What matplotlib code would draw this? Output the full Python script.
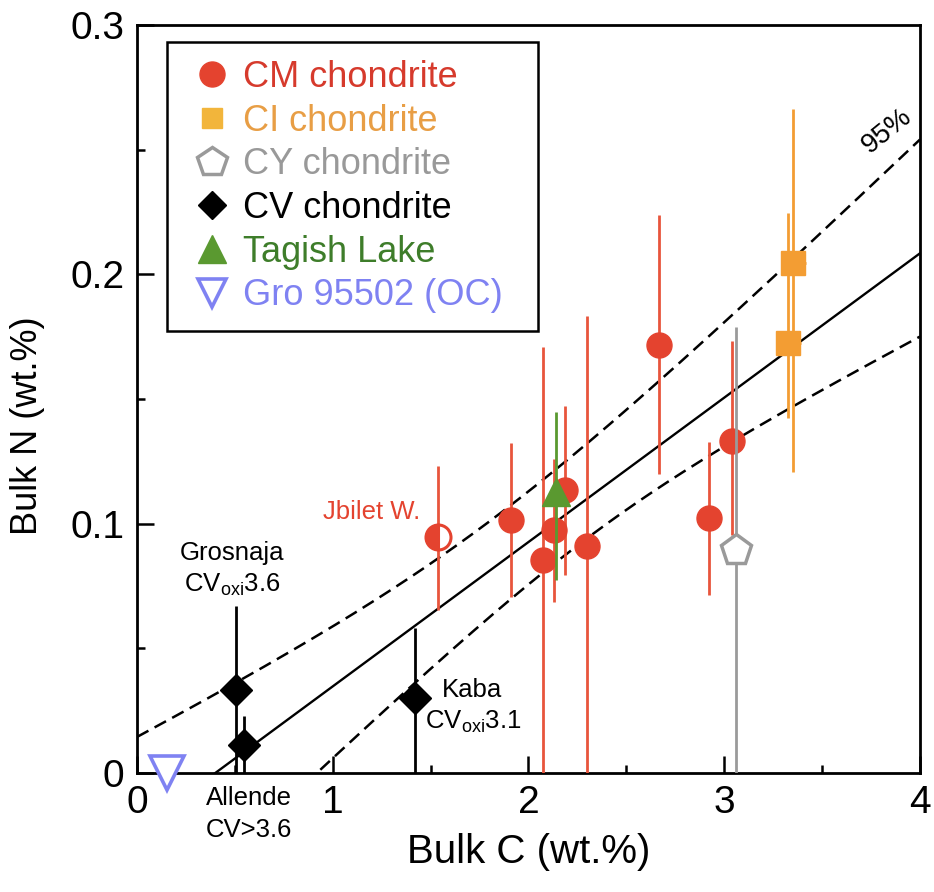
import numpy as np
import matplotlib
matplotlib.use("Agg")
import matplotlib.pyplot as plt
from matplotlib.lines import Line2D
from matplotlib.ticker import MultipleLocator

plt.rcParams['font.family'] = ['Liberation Sans', 'DejaVu Sans']
plt.rcParams['mathtext.fontset'] = 'custom'
plt.rcParams['mathtext.rm'] = 'Liberation Sans'
plt.rcParams['mathtext.it'] = 'Liberation Sans:italic'

# ---- data: bulk C and bulk N (wt.%) ----
# CM chondrites
cm_c = [1.909, 2.076, 2.130, 2.186, 2.300, 2.668, 2.922, 3.041]
cm_n = [0.1015, 0.0854, 0.0975, 0.1135, 0.0910, 0.1717, 0.1021, 0.1333]
cm_lo = [0.0706, 0.0, 0.0686, 0.0794, 0.0, 0.1200, 0.0714, 0.0955]
cm_hi = [0.1324, 0.1710, 0.1260, 0.1470, 0.1833, 0.2238, 0.1328, 0.1733]
# Jbilet Winselwan (CM, half-filled symbol)
jb_c, jb_n, jb_lo, jb_hi = 1.539, 0.0945, 0.0654, 0.1231
# CI chondrites
ci_c = [3.353, 3.328]
ci_n = [0.2045, 0.1724]
ci_lo = [0.1209, 0.1422]
ci_hi = [0.2662, 0.2245]
ci_cerr = [0.065, 0.065]
# CY chondrite
cy_c, cy_n, cy_lo, cy_hi = 3.06, 0.0894, 0.0, 0.179
# CV chondrites: Grosnaja, Allende, Kaba
cv_c = [0.507, 0.545, 1.420]
cv_n = [0.0333, 0.0112, 0.0300]
cv_lo = [0.0, 0.0, 0.0]
cv_hi = [0.067, 0.0229, 0.0582]
# Tagish Lake
tl_c, tl_n, tl_lo, tl_hi = 2.14, 0.1128, 0.0774, 0.1448
# GRO 95502 (ordinary chondrite)
oc_c, oc_n = 0.153, 0.0

# regression line N = slope * (C - c0) and its 95% band
fit_slope, fit_c0 = 0.0579, 0.40
band_up = (0.000392, 0.000334, 1.75)
band_lo = (0.000250, 0.000318, 2.35)

RED = '#E4432F'
RED_BAR = '#E8553C'
ORANGE = '#F39D33'
GRAY = '#9A9A9A'
GREEN = '#5A9930'
BLUE = '#7F82F2'


def yerr(n, lo, hi):
    n, lo, hi = np.atleast_1d(n), np.atleast_1d(lo), np.atleast_1d(hi)
    return [n - lo, hi - n]


fig = plt.figure(figsize=(9.34, 8.92), dpi=100)
ax = fig.add_axes([0.14668, 0.13341, 0.83833, 0.83857])

# regression and confidence band
xs = np.linspace(0, 4, 400)
fit = fit_slope * (xs - fit_c0)
up = fit + np.sqrt(band_up[0] + band_up[1] * (xs - band_up[2]) ** 2)
lo = fit - np.sqrt(band_lo[0] + band_lo[1] * (xs - band_lo[2]) ** 2)
ax.plot(xs, fit, color='black', lw=1.7, zorder=1)
for band in (up, lo):
    ax.plot(xs, band, color='black', lw=1.8, dashes=(5.2, 2.8), zorder=1)

ekw = dict(capsize=0, elinewidth=2.0, linestyle='none')

# CV chondrites
ax.errorbar(cv_c, cv_n, yerr=yerr(cv_n, cv_lo, cv_hi), fmt='D', color='black',
            ms=16, mec='black', ecolor='black', zorder=3, **ekw)
# CM chondrites
ax.errorbar(cm_c, cm_n, yerr=yerr(cm_n, cm_lo, cm_hi), fmt='o', color=RED,
            ms=18, mec=RED, ecolor=RED_BAR, zorder=3, **ekw)
ax.errorbar([jb_c], [jb_n], yerr=yerr(jb_n, jb_lo, jb_hi), fmt='o', color=RED,
            ms=18, mec=RED, mew=2.2, fillstyle='left', markerfacecoloralt='white',
            ecolor=RED_BAR, zorder=3, **ekw)
# CI chondrites
ax.errorbar(ci_c, ci_n, yerr=yerr(ci_n, ci_lo, ci_hi), xerr=ci_cerr, fmt='s',
            color=ORANGE, ms=17, mec=ORANGE, ecolor=ORANGE, zorder=3, **ekw)
# CY chondrite
ax.errorbar([cy_c], [cy_n], yerr=yerr(cy_n, cy_lo, cy_hi), fmt='p', color=GRAY,
            ms=23, mfc='white', mec=GRAY, mew=2.5, ecolor=GRAY, zorder=4, **ekw)
# Tagish Lake
ax.errorbar([tl_c], [tl_n], yerr=yerr(tl_n, tl_lo, tl_hi), fmt='^', color=GREEN,
            ms=20, mec=GREEN, ecolor=GREEN, zorder=4, **ekw)
# ordinary chondrite
ax.plot([oc_c], [oc_n], 'v', ms=24, mfc='white', mec=BLUE, mew=2.6,
        clip_on=False, zorder=5)

# annotations
afs = 18.5
ax.text(1.446, 0.1047, 'Jbilet W.', color=RED, fontsize=afs, ha='right', va='center')
ax.text(0.485, 0.0882, 'Grosnaja', fontsize=afs, ha='center', va='center')
ax.text(0.485, 0.0754, r'CV$_{\mathregular{oxi}}$3.6', fontsize=afs, ha='center', va='center')
ax.text(0.572, -0.0100, 'Allende', fontsize=afs, ha='center', va='center')
ax.text(0.572, -0.0229, 'CV>3.6', fontsize=afs, ha='center', va='center')
ax.text(1.558, 0.0333, 'Kaba', fontsize=afs, ha='left', va='center')
ax.text(1.471, 0.0205, r'CV$_{\mathregular{oxi}}$3.1', fontsize=afs, ha='left', va='center')
ax.text(3.83, 0.2575, '95%', fontsize=20, rotation=39, ha='center', va='center')

# axes styling
ax.set_xlim(0, 4)
ax.set_ylim(0, 0.3)
ax.set_xticks([0, 1, 2, 3, 4])
ax.set_xticklabels(['0', '1', '2', '3', '4'])
ax.set_yticks([0, 0.1, 0.2, 0.3])
ax.set_yticklabels(['0', '0.1', '0.2', '0.3'])
ax.xaxis.set_minor_locator(MultipleLocator(0.5))
ax.yaxis.set_minor_locator(MultipleLocator(0.05))
ax.tick_params(which='both', direction='in', width=1.8, top=False, right=False,
               labelsize=28, pad=9)
ax.tick_params(which='major', length=12)
ax.tick_params(which='minor', length=5.5)
for sp in ax.spines.values():
    sp.set_linewidth(2.0)

ax.set_xlabel('Bulk C (wt.%)', fontsize=29, labelpad=8)
ax.set_ylabel('Bulk N (wt.%)', fontsize=26)
ax.yaxis.set_label_coords(-0.1175, 0.464)

# legend
handles = [
    Line2D([], [], ls='none', marker='o', ms=18, mfc=RED, mec=RED),
    Line2D([], [], ls='none', marker='s', ms=15, mfc='#F2B53B', mec='#F2B53B'),
    Line2D([], [], ls='none', marker='p', ms=22, mfc='white', mec=GRAY, mew=2.5),
    Line2D([], [], ls='none', marker='D', ms=14, mfc='black', mec='black'),
    Line2D([], [], ls='none', marker='^', ms=20, mfc=GREEN, mec=GREEN),
    Line2D([], [], ls='none', marker='v', ms=20, mfc='white', mec=BLUE, mew=2.6),
]
labels = ['CM chondrite', 'CI chondrite', 'CY chondrite', 'CV chondrite',
          'Tagish Lake', 'Gro 95502 (OC)']
lcolors = ['#D63A2C', '#E89E45', '#999999', 'black', '#3E7D2A', '#7F82F2']
x0 = (167 - 137) / 783
y1 = (773 - 42) / 748
y0 = (773 - 328) / 748
w = (538 - 167) / 783
leg = ax.legend(handles, labels, loc='upper left', mode='expand',
                bbox_to_anchor=(x0, y0, w, y1 - y0), borderaxespad=0,
                fontsize=26, labelcolor=lcolors, frameon=True, fancybox=False,
                edgecolor='black', framealpha=1, handlelength=1.5,
                handletextpad=0.1, labelspacing=0.24, borderpad=0.5)
leg.get_frame().set_linewidth(1.8)

fig.savefig('out.png', dpi=100)
